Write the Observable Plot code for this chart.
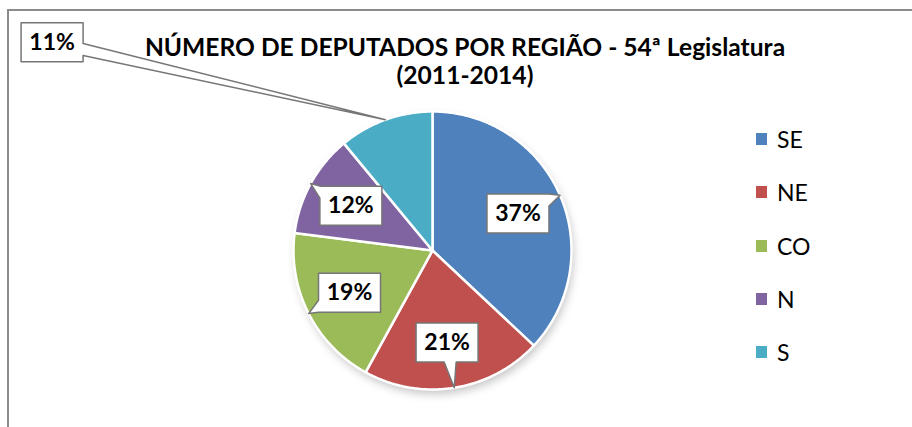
<!DOCTYPE html>
<html><head><meta charset="utf-8">
<script src="https://cdn.jsdelivr.net/npm/d3@7"></script>
<script src="https://cdn.jsdelivr.net/npm/@observablehq/plot@0.6"></script>
<style>
html,body{margin:0;padding:0;background:#fff;overflow:hidden}
#wrap{position:relative;width:912px;height:427px;overflow:hidden;font-family:Lato,sans-serif}
#border{position:absolute;left:7px;top:9px;width:960px;height:480px;border:2px solid #8c8c8c;box-sizing:border-box}
#chart{position:absolute;left:0;top:0}
#title{position:absolute;left:0;width:930px;top:33.2px;text-align:center;font-weight:700;font-size:24.6px;line-height:28px;color:#000}
#legend{position:absolute;left:756px;top:0}
.item{position:absolute;left:0;white-space:nowrap;font-size:23px;line-height:23px;height:23px;color:#000}
.sw{position:absolute;left:0;top:5px;width:11px;height:12px}
.lab{position:absolute;left:21px;top:0}
</style></head><body>
<div id="wrap"><div id="border"></div><div id="chart"></div><div id="title"></div><div id="legend"></div></div>
<script>
// ---- data ----
const regions = ["SE", "NE", "CO", "N", "S"];
const shares = [37, 21, 19, 12, 11];
const shareLabels = ["37%", "21%", "19%", "12%", "11%"];
const titleLines = ["NÚMERO DE DEPUTADOS POR REGIÃO - 54ª Legislatura", "(2011-2014)"];
const palette = ["#4f81bd", "#c0504d", "#9bbb59", "#8064a2", "#4bacc6"];

// ---- layout ----
const W = 912, H = 427, R = 139, CX = 432, CY = 250;
const labelR = 0.67;               // data labels inside slices, fraction of radius
const outside = {S: {r: 3.12, deg: 298.7}}; // callout placed outside the pie
const boxHW = 31 / R, boxHH = 19.5 / R, baseHW = 6 / R;

const rows = regions.map((r, i) => ({region: r, value: shares[i], label: shareLabels[i]}));
const arcs = d3.pie().sort(null).value(d => d.value)(rows);

// slice polygons
const slicePts = [];
for (const a of arcs) {
  slicePts.push({region: a.data.region, x: 0, y: 0});
  const n = Math.max(2, Math.ceil((a.endAngle - a.startAngle) / 0.01));
  for (let k = 0; k <= n; k++) {
    const t = a.startAngle + (a.endAngle - a.startAngle) * k / n;
    slicePts.push({region: a.data.region, x: Math.sin(t), y: Math.cos(t)});
  }
}

// callouts
const labelRows = [], calloutPts = [];
for (const a of arcs) {
  const mid = (a.startAngle + a.endAngle) / 2;
  const o = outside[a.data.region];
  const r = o ? o.r : labelR, ang = o ? o.deg * Math.PI / 180 : mid;
  const lx = r * Math.sin(ang), ly = r * Math.cos(ang);
  const tx = Math.sin(mid), ty = Math.cos(mid);
  labelRows.push({region: a.data.region, x: lx, y: ly, label: a.data.label});
  const dx = tx - lx, dy = ty - ly;
  const tX = boxHW / Math.abs(dx), tY = boxHH / Math.abs(dy);
  const clampX = v => Math.max(-boxHW + baseHW, Math.min(boxHW - baseHW, v));
  const clampY = v => Math.max(-boxHH + baseHW, Math.min(boxHH - baseHW, v));
  const tip = [dx, dy];
  let top = [], right = [], bottom = [], left = [];
  if (tX < tY) {
    const ey = clampY(dy * tX);
    if (dx > 0) right = [[boxHW, ey + baseHW], tip, [boxHW, ey - baseHW]];
    else left = [[-boxHW, ey - baseHW], tip, [-boxHW, ey + baseHW]];
  } else {
    const ex = clampX(dx * tY);
    if (dy > 0) top = [[ex - baseHW, boxHH], tip, [ex + baseHW, boxHH]];
    else bottom = [[ex + baseHW, -boxHH], tip, [ex - baseHW, -boxHH]];
  }
  const poly = [[-boxHW, boxHH], ...top, [boxHW, boxHH], ...right, [boxHW, -boxHH], ...bottom, [-boxHW, -boxHH], ...left];
  for (const [px, py] of poly) calloutPts.push({region: a.data.region, x: lx + px, y: ly + py});
}

const chart = Plot.plot({
  width: W, height: H, margin: 0,
  style: {background: "transparent", fontFamily: "Lato"},
  x: {domain: [-CX / R, (W - CX) / R], axis: null},
  y: {domain: [-(H - CY) / R, CY / R], axis: null},
  color: {domain: regions, range: palette},
  marks: [
    Plot.dot([{x: 0.015, y: -0.035}], {x: "x", y: "y", r: R, fill: "#000", fillOpacity: 0.22}),
    Plot.line(slicePts, {x: "x", y: "y", z: "region", fill: "region", stroke: "white", strokeWidth: 2.5, curve: "linear-closed"}),
    Plot.line(calloutPts, {x: "x", y: "y", z: "region", fill: "white", stroke: "#767676", strokeWidth: 1.5, curve: "linear-closed"}),
    Plot.text(labelRows, {x: "x", y: "y", text: "label", fontSize: 23, fontWeight: "bold", fontFamily: "Lato", fill: "#000"})
  ]
});
const shadow = chart.querySelector('g[aria-label="dot"]');
if (shadow) shadow.style.filter = "blur(4px)";
document.getElementById("chart").appendChild(chart);

document.getElementById("title").innerHTML = titleLines.join("<br>");

const leg = d3.select("#legend");
regions.forEach((r, i) => {
  const it = leg.append("div").attr("class", "item").style("top", (128 + i * 53.25) + "px");
  it.append("div").attr("class", "sw").style("background", palette[i]);
  it.append("div").attr("class", "lab").text(r);
});
</script>
</body></html>
